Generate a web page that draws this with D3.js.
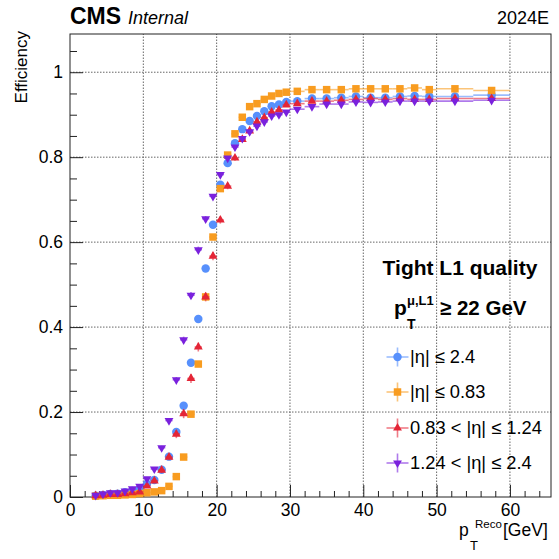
<!DOCTYPE html>
<html><head><meta charset="utf-8">
<script src="https://cdn.jsdelivr.net/npm/d3@7"></script>
<style>
body{margin:0;background:#fff}
svg{display:block}
text{font-family:"Liberation Sans",Arial,Helvetica,sans-serif;fill:#000}
</style>
</head><body>
<svg id="c" width="559" height="559"></svg>
<script>
// ---------- data ----------
const binEdges = [3,4,5,6,7,8,9,10,11,12,13,14,15,16,17,18,19,20,21,22,23,24,25,26,27,28,29,30,
                  32,34,36,38,40,42,44,46,48,50,55,60];
const seriesNames = ["|η| ≤ 2.4","|η| ≤ 0.83","0.83 < |η| ≤ 1.24","1.24 < |η| ≤ 2.4"];
const effAll = [0.003,0.005,0.007,0.008,0.011,0.014,0.018,0.031,0.040,0.064,0.095,0.153,0.215,0.316,0.419,0.538,0.641,0.735,0.786,0.833,0.866,0.885,0.897,0.908,0.920,0.924,0.930,
                0.932,0.938,0.938,0.940,0.943,0.940,0.940,0.943,0.944,0.943,0.943,0.946];
const effBarrel = [0.002,0.003,0.004,0.004,0.005,0.006,0.008,0.010,0.012,0.015,0.025,0.048,0.094,0.195,0.313,0.471,0.612,0.726,0.805,0.855,0.894,0.919,0.926,0.936,0.944,0.950,0.953,
                0.955,0.959,0.959,0.959,0.961,0.961,0.961,0.961,0.963,0.959,0.961,0.957];
const effOverlap = [0.003,0.004,0.006,0.006,0.008,0.010,0.012,0.026,0.038,0.063,0.094,0.148,0.196,0.279,0.353,0.471,0.567,0.652,0.732,0.798,0.842,0.862,0.883,0.893,0.906,0.911,0.923,
                0.926,0.932,0.932,0.934,0.936,0.938,0.936,0.938,0.936,0.936,0.938,0.938];
const effEndcap = [0.004,0.007,0.010,0.010,0.014,0.019,0.025,0.043,0.066,0.116,0.180,0.276,0.370,0.475,0.582,0.655,0.708,0.759,0.798,0.824,0.844,0.860,0.873,0.883,0.897,0.900,0.906,
                0.913,0.919,0.925,0.925,0.930,0.929,0.930,0.932,0.932,0.932,0.932,0.934];
const errAll = [0.002,0.002,0.002,0.002,0.002,0.003,0.003,0.004,0.004,0.005,0.006,0.007,0.008,0.008,0.008,0.008,0.008,0.007,0.006,0.006,0.005,0.005,0.005,0.004,0.004,0.004,0.004,
                0.003,0.003,0.003,0.003,0.003,0.003,0.003,0.003,0.003,0.003,0.002,0.003];
const errBarrel = [0.002,0.002,0.002,0.002,0.002,0.002,0.002,0.003,0.003,0.003,0.004,0.006,0.008,0.009,0.010,0.010,0.009,0.008,0.007,0.006,0.005,0.005,0.004,0.004,0.004,0.003,0.003,
                0.003,0.003,0.003,0.003,0.003,0.003,0.003,0.003,0.003,0.003,0.002,0.003];
const errOverlap = [0.003,0.003,0.004,0.004,0.004,0.005,0.005,0.007,0.008,0.010,0.011,0.013,0.014,0.014,0.014,0.014,0.013,0.012,0.011,0.010,0.009,0.008,0.008,0.007,0.007,0.007,0.006,
                0.005,0.005,0.005,0.005,0.005,0.005,0.005,0.005,0.005,0.005,0.004,0.005];
const errEndcap = [0.002,0.003,0.003,0.003,0.004,0.004,0.005,0.006,0.007,0.008,0.009,0.010,0.011,0.011,0.011,0.010,0.009,0.008,0.008,0.007,0.006,0.006,0.006,0.005,0.005,0.005,0.005,
                0.004,0.004,0.004,0.004,0.004,0.004,0.004,0.004,0.004,0.004,0.003,0.004];
const xTicks = [0,10,20,30,40,50,60];
const xMinorTicks = [2,4,6,8,12,14,16,18,22,24,26,28,32,34,36,38,42,44,46,48,52,54,56,58,62,64];
const yTicks = [0,0.2,0.4,0.6,0.8,1];
const yTickLabels = ["0","0.2","0.4","0.6","0.8","1"];
const yMinorTicks = [0.05,0.1,0.15,0.25,0.3,0.35,0.45,0.5,0.55,0.65,0.7,0.75,0.85,0.9,0.95,1.05];

// ---------- styles ----------
const colors = ["#5790fc","#f89c20","#e42536","#7a21dd"];
const shapes = ["circle","square","triUp","triDown"];
const effs = [effAll,effBarrel,effOverlap,effEndcap];
const errs = [errAll,errBarrel,errOverlap,errEndcap];

const svg = d3.select("#c");
const L=70, R=551, T=34, B=497;
const x = d3.scaleLinear().domain([0,65.6]).range([L,R]);
const y = d3.scaleLinear().domain([0,1.09]).range([B,T]);

// grid
const grid = svg.append("g");
grid.selectAll(".gx").data(xTicks.filter(d=>d>0)).join("line")
  .attr("x1",d=>x(d)).attr("x2",d=>x(d)).attr("y1",B).attr("y2",T)
  .attr("stroke","#666").attr("stroke-width",1).attr("stroke-dasharray","1.5,1.5");
grid.selectAll(".gy").data(yTicks.filter(d=>d>0)).join("line")
  .attr("x1",L).attr("x2",R).attr("y1",d=>y(d)).attr("y2",d=>y(d))
  .attr("stroke","#666").attr("stroke-width",1).attr("stroke-dasharray","1.5,1.5");

// axes
const fontAxis = 17.5;
const gx = svg.append("g").attr("transform",`translate(0,${B})`)
  .call(d3.axisBottom(x).tickValues(xTicks).tickSizeInner(-12).tickSizeOuter(0).tickPadding(7));
const gxm = svg.append("g").attr("transform",`translate(0,${B})`)
  .call(d3.axisBottom(x).tickValues(xMinorTicks).tickSizeInner(-6).tickSizeOuter(0).tickFormat(""));
const gy = svg.append("g").attr("transform",`translate(${L},0)`)
  .call(d3.axisLeft(y).tickValues(yTicks).tickSizeInner(-13).tickSizeOuter(0).tickPadding(7)
    .tickFormat((d,i)=>yTickLabels[i]));
const gym = svg.append("g").attr("transform",`translate(${L},0)`)
  .call(d3.axisLeft(y).tickValues(yMinorTicks).tickSizeInner(-7).tickSizeOuter(0).tickFormat(""));
[gx,gxm,gy,gym].forEach(g=>{
  g.select(".domain").remove();
  g.selectAll("line").attr("stroke","#222");
  g.selectAll("text").attr("font-size",fontAxis).attr("font-family",null).attr("fill","#000");
});

// frame
svg.append("rect").attr("x",L).attr("y",T).attr("width",R-L).attr("height",B-T)
  .attr("fill","none").attr("stroke","#222").attr("stroke-width",1);

// markers
function markerPath(shape){
  if(shape==="circle") return d3.symbol(d3.symbolCircle,56)();
  if(shape==="square") return d3.symbol(d3.symbolSquare,56)();
  return d3.symbol(d3.symbolTriangle,34)();
}
const centers = binEdges.slice(0,-1).map((e,i)=>(e+binEdges[i+1])/2);
const plot = svg.append("g");
effs.forEach((eff,s)=>{
  const g = plot.append("g");
  const pts = eff.map((v,i)=>({xl:binEdges[i],xh:binEdges[i+1],xc:centers[i],v,e:errs[s][i]}));
  g.selectAll(".h").data(pts).join("line")
    .attr("x1",d=>x(d.xl)).attr("x2",d=>x(d.xh)).attr("y1",d=>y(d.v)).attr("y2",d=>y(d.v))
    .attr("stroke",colors[s]).attr("stroke-opacity",0.6).attr("stroke-width",1.6);
  g.selectAll(".v").data(pts).join("line")
    .attr("x1",d=>x(d.xc)).attr("x2",d=>x(d.xc)).attr("y1",d=>y(d.v-d.e)-1.5).attr("y2",d=>y(d.v+d.e)+1.5)
    .attr("stroke",colors[s]).attr("stroke-opacity",0.6).attr("stroke-width",1.6);
  g.selectAll(".m").data(pts).join("path")
    .attr("d",markerPath(shapes[s]))
    .attr("transform",d=>`translate(${x(d.xc)},${y(d.v)})${shapes[s]==="triDown"?" rotate(180)":""}`)
    .attr("fill",colors[s]);
});

// legend
const leg = svg.append("g");
leg.append("text").attr("x",460).attr("y",275).attr("text-anchor","middle")
  .attr("font-size",21).attr("font-weight","bold").text("Tight L1 quality");
const sel = leg.append("g").attr("font-weight","bold");
sel.append("text").attr("x",394).attr("y",315).attr("font-size",21).text("p");
sel.append("text").attr("x",407).attr("y",305).attr("font-size",13).text("μ,L1");
sel.append("text").attr("x",407).attr("y",329).attr("font-size",14).text("T");
sel.append("text").attr("x",440).attr("y",315).attr("font-size",20.5).text("≥ 22 GeV");
const entryY = [357,392,428,463];
seriesNames.forEach((name,s)=>{
  const cy = entryY[s], cx = 397.5;
  leg.append("line").attr("x1",cx-11).attr("x2",cx+11).attr("y1",cy).attr("y2",cy)
    .attr("stroke",colors[s]).attr("stroke-opacity",0.6).attr("stroke-width",1.6);
  leg.append("line").attr("x1",cx).attr("x2",cx).attr("y1",cy-9.5).attr("y2",cy+9.5)
    .attr("stroke",colors[s]).attr("stroke-opacity",0.6).attr("stroke-width",1.6);
  leg.append("path").attr("d",markerPath(shapes[s]))
    .attr("transform",`translate(${cx},${cy})${shapes[s]==="triDown"?" rotate(180)":""}`)
    .attr("fill",colors[s]);
  leg.append("text").attr("x",410).attr("y",cy+6).attr("font-size",18.3).text(name);
});

// titles
svg.append("text").attr("x",70).attr("y",24).attr("font-size",23).attr("font-weight","bold").text("CMS");
svg.append("text").attr("x",128).attr("y",24).attr("font-size",18).attr("font-style","italic").text("Internal");
svg.append("text").attr("x",549).attr("y",24).attr("font-size",18).attr("text-anchor","end").text("2024E");

svg.append("text").attr("transform","translate(27,31) rotate(-90)").attr("text-anchor","end")
  .attr("font-size",17).text("Efficiency");

const xt = svg.append("g");
xt.append("text").attr("x",503).attr("y",536).attr("font-size",17.5).text("[GeV]");
xt.append("text").attr("x",459).attr("y",536).attr("font-size",17.5).text("p");
xt.append("text").attr("x",475).attr("y",528).attr("font-size",11.5).text("Reco");
xt.append("text").attr("x",470).attr("y",550).attr("font-size",13).text("T");
</script>
</body></html>
